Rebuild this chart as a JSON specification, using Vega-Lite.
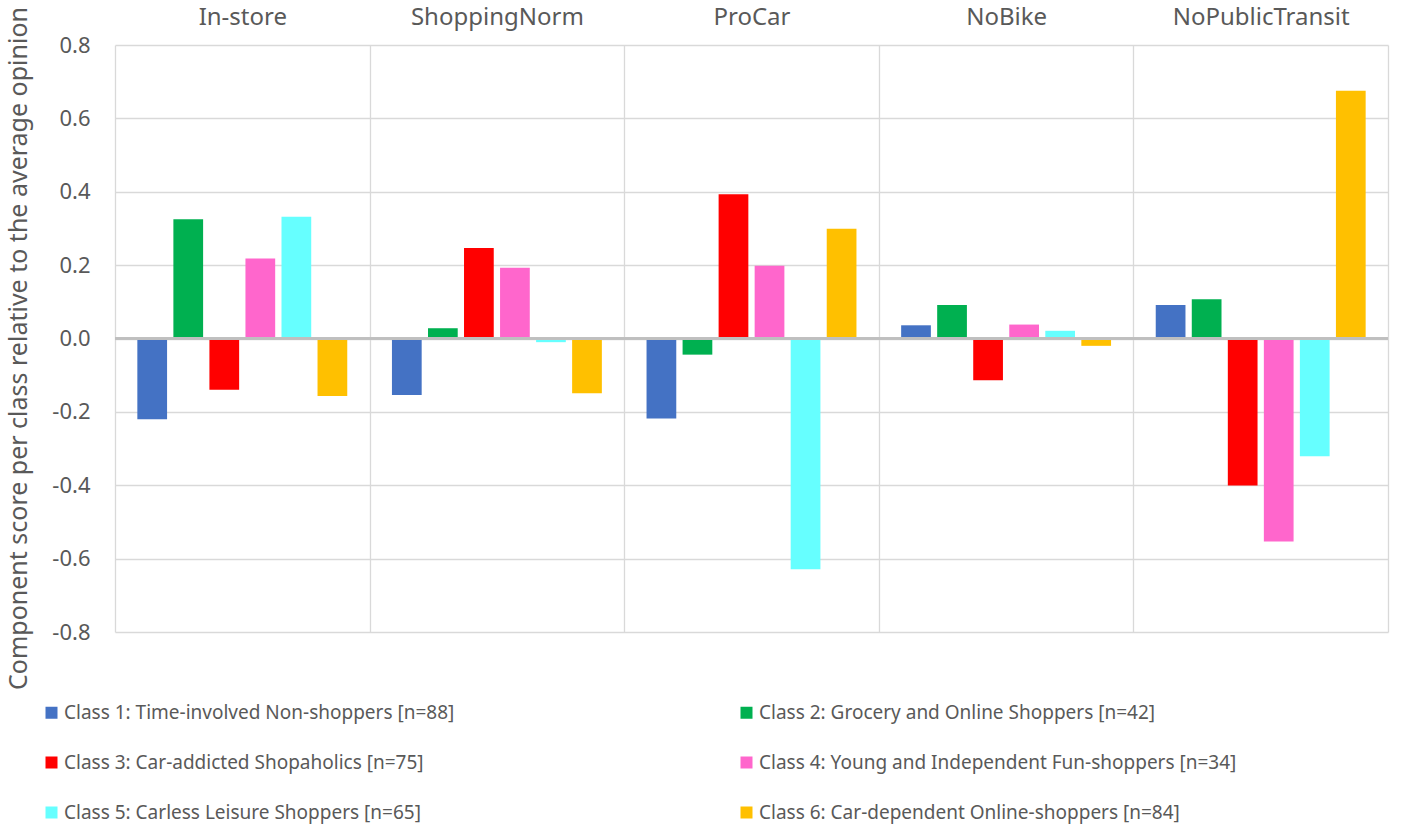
{
  "$schema": "https://vega.github.io/schema/vega-lite/v6.json",
  "width": 1273,
  "height": 587,
  "autosize": {"type": "none"},
  "padding": {"left": 115, "top": 45, "right": 30, "bottom": 199},
  "background": "white",
  "config": {"view": {"stroke": null}, "font": "Noto Sans"},
  "data": {
    "values": [
      {"cat": "In-store", "cls": "Class 1: Time-involved Non-shoppers [n=88]", "v": -0.22},
      {"cat": "In-store", "cls": "Class 2: Grocery and Online Shoppers [n=42]", "v": 0.325},
      {"cat": "In-store", "cls": "Class 3: Car-addicted Shopaholics [n=75]", "v": -0.14},
      {"cat": "In-store", "cls": "Class 4: Young and Independent Fun-shoppers [n=34]", "v": 0.218},
      {"cat": "In-store", "cls": "Class 5: Carless Leisure Shoppers [n=65]", "v": 0.332},
      {"cat": "In-store", "cls": "Class 6: Car-dependent Online-shoppers [n=84]", "v": -0.157},
      {"cat": "ShoppingNorm", "cls": "Class 1: Time-involved Non-shoppers [n=88]", "v": -0.154},
      {"cat": "ShoppingNorm", "cls": "Class 2: Grocery and Online Shoppers [n=42]", "v": 0.028},
      {"cat": "ShoppingNorm", "cls": "Class 3: Car-addicted Shopaholics [n=75]", "v": 0.247},
      {"cat": "ShoppingNorm", "cls": "Class 4: Young and Independent Fun-shoppers [n=34]", "v": 0.193},
      {"cat": "ShoppingNorm", "cls": "Class 5: Carless Leisure Shoppers [n=65]", "v": -0.01},
      {"cat": "ShoppingNorm", "cls": "Class 6: Car-dependent Online-shoppers [n=84]", "v": -0.149},
      {"cat": "ProCar", "cls": "Class 1: Time-involved Non-shoppers [n=88]", "v": -0.218},
      {"cat": "ProCar", "cls": "Class 2: Grocery and Online Shoppers [n=42]", "v": -0.044},
      {"cat": "ProCar", "cls": "Class 3: Car-addicted Shopaholics [n=75]", "v": 0.393},
      {"cat": "ProCar", "cls": "Class 4: Young and Independent Fun-shoppers [n=34]", "v": 0.198},
      {"cat": "ProCar", "cls": "Class 5: Carless Leisure Shoppers [n=65]", "v": -0.629},
      {"cat": "ProCar", "cls": "Class 6: Car-dependent Online-shoppers [n=84]", "v": 0.299},
      {"cat": "NoBike", "cls": "Class 1: Time-involved Non-shoppers [n=88]", "v": 0.036},
      {"cat": "NoBike", "cls": "Class 2: Grocery and Online Shoppers [n=42]", "v": 0.091},
      {"cat": "NoBike", "cls": "Class 3: Car-addicted Shopaholics [n=75]", "v": -0.114},
      {"cat": "NoBike", "cls": "Class 4: Young and Independent Fun-shoppers [n=34]", "v": 0.038},
      {"cat": "NoBike", "cls": "Class 5: Carless Leisure Shoppers [n=65]", "v": 0.021},
      {"cat": "NoBike", "cls": "Class 6: Car-dependent Online-shoppers [n=84]", "v": -0.02},
      {"cat": "NoPublicTransit", "cls": "Class 1: Time-involved Non-shoppers [n=88]", "v": 0.091},
      {"cat": "NoPublicTransit", "cls": "Class 2: Grocery and Online Shoppers [n=42]", "v": 0.107},
      {"cat": "NoPublicTransit", "cls": "Class 3: Car-addicted Shopaholics [n=75]", "v": -0.401},
      {"cat": "NoPublicTransit", "cls": "Class 4: Young and Independent Fun-shoppers [n=34]", "v": -0.553},
      {"cat": "NoPublicTransit", "cls": "Class 5: Carless Leisure Shoppers [n=65]", "v": -0.321},
      {"cat": "NoPublicTransit", "cls": "Class 6: Car-dependent Online-shoppers [n=84]", "v": 0.675}
    ]
  },
  "layer": [
    {
      "mark": {"type": "bar"},
      "encoding": {
        "x": {
          "field": "cat",
          "type": "nominal",
          "sort": ["In-store", "ShoppingNorm", "ProCar", "NoBike", "NoPublicTransit"],
          "scale": {"paddingInner": 0, "paddingOuter": 0},
          "axis": {
            "orient": "top",
            "title": null,
            "domain": false,
            "ticks": false,
            "grid": true,
            "tickBand": "extent",
            "gridColor": "#d9d9d9",
            "gridWidth": 1.3,
            "labelFontSize": 24,
            "labelColor": "#595959",
            "labelPadding": 16,
            "labelAngle": 0
          }
        },
        "xOffset": {
          "field": "cls",
          "type": "nominal",
          "scale": {"paddingInner": 0.175, "paddingOuter": 0.62}
        },
        "y": {
          "field": "v",
          "type": "quantitative",
          "scale": {"domain": [-0.8, 0.8], "nice": false, "zero": false},
          "axis": {
            "values": [-0.8, -0.6, -0.4, -0.2, 0, 0.2, 0.4, 0.6, 0.8],
            "labelExpr": "replace(format(datum.value, '.1f'), '\u2212', '-')",
            "title": "Component  score per class relative to the average opinion",
            "titleFontSize": 25,
            "titleFontWeight": "normal",
            "titleColor": "#595959",
            "titleX": -84,
            "titleY": 303,
            "domain": false,
            "ticks": false,
            "grid": true,
            "gridColor": "#d9d9d9",
            "gridWidth": 1.3,
            "labelFontSize": 22,
            "labelColor": "#595959",
            "labelPadding": 25
          }
        },
        "color": {
          "field": "cls",
          "type": "nominal",
          "scale": {
            "domain": [
              "Class 1: Time-involved Non-shoppers [n=88]",
              "Class 2: Grocery and Online Shoppers [n=42]",
              "Class 3: Car-addicted Shopaholics [n=75]",
              "Class 4: Young and Independent Fun-shoppers [n=34]",
              "Class 5: Carless Leisure Shoppers [n=65]",
              "Class 6: Car-dependent Online-shoppers [n=84]"
            ],
            "range": ["#4472C4", "#00B050", "#FF0000", "#FF66CC", "#66FFFF", "#FFC000"]
          },
          "legend": {
            "title": null,
            "orient": "none",
            "direction": "horizontal",
            "legendX": -73,
            "legendY": 658,
            "columns": 2,
            "columnPadding": 282,
            "rowPadding": 30,
            "symbolType": "square",
            "symbolSize": 144,
            "symbolStrokeWidth": 0,
            "labelFontSize": 19,
            "labelColor": "#595959",
            "labelOffset": 3,
            "labelLimit": 600
          }
        }
      }
    },
    {
      "mark": {"type": "rule", "color": "#bfbfbf", "strokeWidth": 2},
      "encoding": {"y": {"datum": 0}}
    }
  ]
}
